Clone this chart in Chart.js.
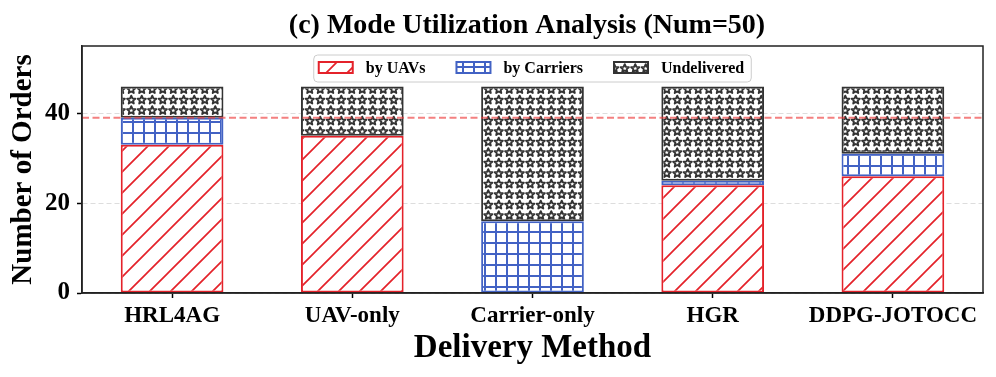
<!DOCTYPE html>
<html>
<head>
<meta charset="utf-8">
<script src="https://cdn.jsdelivr.net/npm/chart.js@4.4.1/dist/chart.umd.min.js"></script>
<style>
  body { margin: 0; background: #fff; }
  #box { width: 996px; height: 377px; }
</style>
</head>
<body>
<div id="box"><canvas id="grafico"></canvas></div>
<script>
// dados
var metodos = ["HRL4AG", "UAV-only", "Carrier-only", "HGR", "DDPG-JOTOCC"];
var porUAVs = [33, 35, 0, 24, 26];
var porCarriers = [6, 0, 16, 1, 5];
var naoEntregues = [7, 11, 30, 21, 15];
var linhaReferencia = 39;
var ticksY = [0, 20, 40];
var maxY = 55;

var fonte = "'Liberation Serif', 'Times New Roman', serif";
var vermelho = "#e4222a";
var azul = "#4262c4";
var cinza = "#333333";

// padrões de hachura (fundo branco)
function padraoDiagonal(cor) {
  var c = document.createElement("canvas");
  var s = 21;
  c.width = s; c.height = s;
  var g = c.getContext("2d");
  g.fillStyle = "#fff";
  g.fillRect(0, 0, s, s);
  g.strokeStyle = cor;
  g.lineWidth = 1.7;
  g.beginPath();
  g.moveTo(0, s); g.lineTo(s, 0);
  g.moveTo(-2, 2); g.lineTo(2, -2);
  g.moveTo(s - 2, s + 2); g.lineTo(s + 2, s - 2);
  g.stroke();
  return g.createPattern(c, "repeat");
}

function padraoGrade(cor) {
  var c = document.createElement("canvas");
  var s = 11;
  c.width = s; c.height = s;
  var g = c.getContext("2d");
  g.fillStyle = "#fff";
  g.fillRect(0, 0, s, s);
  g.fillStyle = cor;
  g.fillRect(0, 0, 2, s);
  g.fillRect(0, 0, s, 2);
  return g.createPattern(c, "repeat");
}

function estrela(g, cx, cy, r1, r2) {
  g.beginPath();
  for (var k = 0; k < 10; k++) {
    var r = k % 2 === 0 ? r1 : r2;
    var a = -Math.PI / 2 + k * Math.PI / 5;
    var x = cx + r * Math.cos(a), y = cy + r * Math.sin(a);
    if (k === 0) g.moveTo(x, y); else g.lineTo(x, y);
  }
  g.closePath();
  g.stroke();
}

function padraoEstrelas(cor) {
  var c = document.createElement("canvas");
  var s = 21;
  c.width = s; c.height = s;
  var g = c.getContext("2d");
  g.fillStyle = "#fff";
  g.fillRect(0, 0, s, s);
  g.strokeStyle = cor;
  g.lineWidth = 1.9;
  g.lineJoin = "round";
  [[5.25, 5.5], [15.75, 5.5], [5.25, 16], [15.75, 16]].forEach(function(p) {
    estrela(g, p[0], p[1], 4.3, 2.0);
  });
  return g.createPattern(c, "repeat");
}

// título, moldura, linha de referência e legenda
var extras = {
  id: "extras",
  afterDatasetsDraw: function(chart) {
    var ctx = chart.ctx;
    var a = chart.chartArea;
    var y = chart.scales.y.getPixelForValue(linhaReferencia);
    ctx.save();
    ctx.strokeStyle = "rgba(238, 60, 60, 0.65)";
    ctx.lineWidth = 2;
    ctx.setLineDash([7, 3.5]);
    ctx.beginPath();
    ctx.moveTo(a.left, y);
    ctx.lineTo(a.right, y);
    ctx.stroke();
    ctx.setLineDash([]);

    // moldura
    ctx.strokeStyle = "#222";
    ctx.lineWidth = 1.5;
    ctx.strokeRect(a.left, a.top, a.right - a.left, a.bottom - a.top);

    // título
    ctx.fillStyle = "#000";
    ctx.font = "bold 28px " + fonte;
    ctx.textAlign = "center";
    ctx.textBaseline = "alphabetic";
    ctx.fillText("(c) Mode Utilization Analysis (Num=50)", 527, 33);

    // legenda
    ctx.font = "bold 16px " + fonte;
    var ds = chart.data.datasets;
    var larguras = ds.map(function(d) { return ctx.measureText(d.label).width; });
    var total = 5 + 7;
    larguras.forEach(function(w, i) { total += 34 + 13 + w + (i < ds.length - 1 ? 31 : 0); });
    var cx = (a.left + a.right) / 2;
    var x0 = cx - total / 2;
    var topo = 55, alt = 27;
    ctx.fillStyle = "rgba(255,255,255,0.85)";
    ctx.strokeStyle = "#cccccc";
    ctx.lineWidth = 1;
    ctx.beginPath();
    ctx.roundRect(x0, topo, total, alt, 4);
    ctx.fill();
    ctx.stroke();
    var x = x0 + 5;
    ds.forEach(function(d, i) {
      ctx.fillStyle = d.backgroundColor;
      ctx.fillRect(x, topo + 7, 34, 11);
      ctx.strokeStyle = d.borderColor;
      ctx.lineWidth = 2;
      ctx.strokeRect(x, topo + 7, 34, 11);
      ctx.fillStyle = "#000";
      ctx.textAlign = "left";
      ctx.textBaseline = "middle";
      ctx.fillText(d.label, x + 47, topo + 14);
      x += 47 + larguras[i] + 31;
    });
    ctx.restore();
  }
};

var ctx = document.getElementById("grafico").getContext("2d");

var grafico = new Chart(ctx, {
  type: "bar",
  data: {
    labels: metodos,
    datasets: [
      {
        label: "by UAVs",
        data: porUAVs,
        backgroundColor: padraoDiagonal(vermelho),
        borderColor: vermelho,
        borderWidth: 2,
        borderSkipped: false
      },
      {
        label: "by Carriers",
        data: porCarriers,
        backgroundColor: padraoGrade(azul),
        borderColor: azul,
        borderWidth: 2,
        borderSkipped: false
      },
      {
        label: "Undelivered",
        data: naoEntregues,
        backgroundColor: padraoEstrelas(cinza),
        borderColor: cinza,
        borderWidth: 2,
        borderSkipped: false
      }
    ]
  },
  options: {
    responsive: true,
    maintainAspectRatio: false,
    animation: false,
    datasets: {
      bar: { barPercentage: 0.57, categoryPercentage: 1 }
    },
    layout: { padding: { top: 46, right: 13, left: 0, bottom: 0 } },
    plugins: {
      legend: { display: false },
      title: { display: false },
      tooltip: { enabled: false }
    },
    scales: {
      x: {
        stacked: true,
        afterFit: function(s) { s.height = 84; },
        grid: {
          offset: false,
          drawOnChartArea: false,
          tickLength: 5,
          tickColor: "#000",
          tickWidth: 1.5
        },
        border: { color: "#222", width: 1.5 },
        ticks: {
          color: "#000",
          padding: 4,
          maxRotation: 0,
          autoSkip: false,
          font: { family: fonte, size: 23, weight: "bold" }
        },
        title: {
          display: true,
          text: "Delivery Method",
          color: "#000",
          padding: { top: 0, bottom: 9 },
          font: { family: fonte, size: 33, weight: "bold" }
        }
      },
      y: {
        stacked: true,
        min: 0,
        max: maxY,
        afterFit: function(s) { s.width = 82; },
        afterBuildTicks: function(s) {
          s.ticks = ticksY.map(function(v) { return { value: v }; });
        },
        grid: {
          color: "#dddddd",
          lineWidth: 1,
          tickLength: 5,
          tickColor: "#000",
          tickWidth: 1.5,
          tickBorderDash: []
        },
        border: { color: "#222", width: 1.5, dash: [5, 3] },
        ticks: {
          color: "#000",
          padding: 7,
          font: { family: fonte, size: 25, weight: "bold" }
        },
        title: {
          display: true,
          text: "Number of Orders",
          color: "#000",
          padding: { top: 6, bottom: 0 },
          font: { family: fonte, size: 29, weight: "bold" }
        }
      }
    }
  },
  plugins: [extras]
});
</script>
</body>
</html>
